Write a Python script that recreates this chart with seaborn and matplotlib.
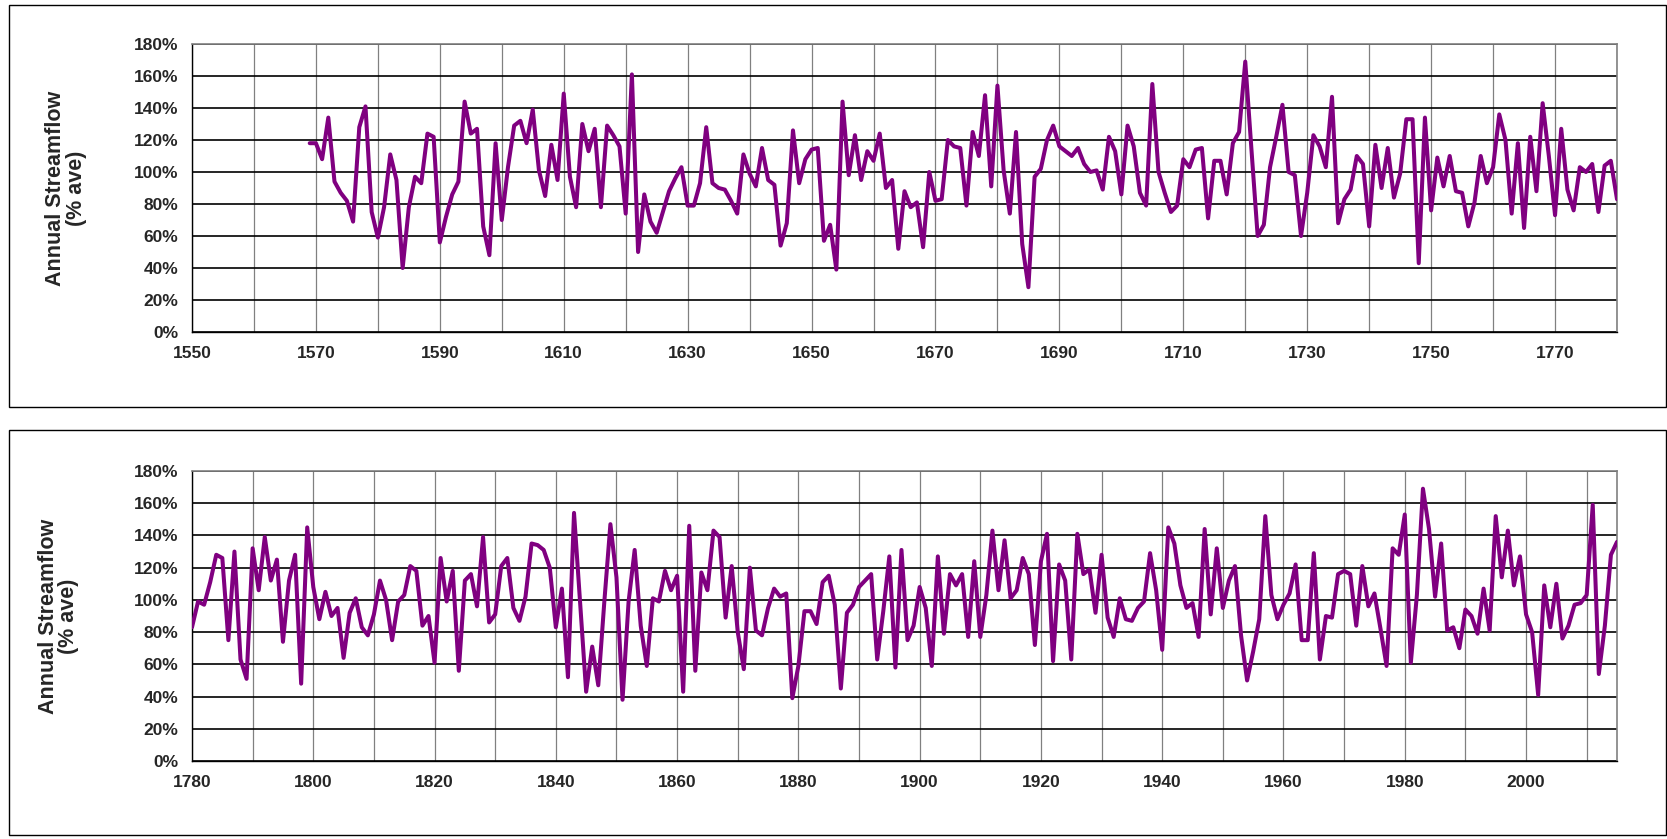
import matplotlib
matplotlib.use("Agg")
import matplotlib.pyplot as plt
from matplotlib.patches import Rectangle
from matplotlib.ticker import MultipleLocator, FuncFormatter
import seaborn as sns
import pandas as pd

# ---------------- data ----------------
top_start = 1569
top_values = [
    118, 118, 108, 134, 94, 87, 82, 69, 128, 141,          # 1569-1578
    75, 59, 78, 111, 95, 40, 78, 97, 93, 124,              # 1579-1588
    122, 56, 72, 86, 94, 144, 124, 127, 66, 48,            # 1589-1598
    118, 70, 103, 129, 132, 118, 139, 101, 85, 117,        # 1599-1608
    95, 149, 97, 78, 130, 113, 127, 78, 129, 123,          # 1609-1618
    116, 74, 161, 50, 86, 69, 62, 75, 88, 96,              # 1619-1628
    103, 79, 79, 93, 128, 93, 90, 89, 82, 74,              # 1629-1638
    111, 99, 91, 115, 95, 92, 54, 68, 126, 93,             # 1639-1648
    108, 114, 115, 57, 67, 39, 144, 98, 123, 95,           # 1649-1658
    113, 107, 124, 90, 95, 52, 88, 78, 81, 53,             # 1659-1668
    100, 82, 83, 120, 116, 115, 79, 125, 110, 148,         # 1669-1678
    91, 154, 101, 74, 125, 55, 28, 97, 102, 120,           # 1679-1688
    129, 116, 113, 110, 115, 105, 100, 101, 89, 122,       # 1689-1698
    113, 86, 129, 116, 87, 79, 155, 100, 87, 75,           # 1699-1708
    79, 108, 103, 114, 115, 71, 107, 107, 86, 118,         # 1709-1718
    125, 169, 114, 60, 67, 103, 122, 142, 100, 98,         # 1719-1728
    60, 87, 123, 116, 103, 147, 68, 83, 89, 110,           # 1729-1738
    105, 66, 117, 90, 115, 84, 99, 133, 133, 43,           # 1739-1748
    134, 76, 109, 91, 110, 88, 87, 66, 81, 110,            # 1749-1758
    93, 103, 136, 120, 74, 118, 65, 122, 88, 143,          # 1759-1768
    110, 73, 127, 89, 76, 103, 100, 105, 75, 104,          # 1769-1778
    107, 83,                                               # 1779-1780
]

bottom_start = 1780
bottom_values = [
    83, 99, 97, 111, 128, 126, 75, 130, 63, 51,            # 1780-1789
    132, 106, 139, 112, 125, 74, 112, 128, 48, 145,        # 1790-1799
    108, 88, 105, 90, 95, 64, 92, 101, 83, 78,             # 1800-1809
    91, 112, 100, 75, 99, 103, 121, 118, 84, 90,           # 1810-1819
    61, 126, 99, 118, 56, 112, 116, 96, 139, 86,           # 1820-1829
    91, 121, 126, 95, 87, 102, 135, 134, 131, 120,         # 1830-1839
    83, 107, 52, 154, 99, 43, 71, 47, 99, 147,             # 1840-1849
    114, 38, 99, 131, 84, 59, 101, 99, 118, 106,           # 1850-1859
    115, 43, 146, 56, 117, 106, 143, 139, 89, 121,         # 1860-1869
    80, 57, 120, 81, 78, 95, 107, 102, 104, 39,            # 1870-1879
    59, 93, 93, 85, 111, 115, 97, 45, 92, 97,              # 1880-1889
    108, 112, 116, 63, 93, 127, 58, 131, 75, 84,           # 1890-1899
    108, 95, 59, 127, 79, 116, 109, 116, 77, 124,          # 1900-1909
    77, 103, 143, 106, 137, 101, 106, 126, 116, 72,        # 1910-1919
    124, 141, 62, 122, 112, 63, 141, 116, 119, 92,         # 1920-1929
    128, 89, 77, 101, 88, 87, 95, 99, 129, 106,            # 1930-1939
    69, 145, 135, 109, 95, 98, 77, 144, 91, 132,           # 1940-1949
    95, 112, 121, 78, 50, 68, 88, 152, 103, 88,            # 1950-1959
    97, 104, 122, 75, 75, 129, 63, 90, 89, 116,            # 1960-1969
    118, 116, 84, 121, 96, 104, 82, 59, 132, 128,          # 1970-1979
    153, 61, 103, 169, 144, 102, 135, 81, 83, 70,          # 1980-1989
    94, 90, 79, 107, 81, 152, 114, 143, 109, 127,          # 1990-1999
    91, 80, 41, 109, 83, 110, 76, 84, 97, 98,              # 2000-2009
    103, 159, 54, 84, 128, 136,                            # 2010-2015
]

top_xlim = (1550, 1780)
bottom_xlim = (1780, 2015)
ylabel = "Annual Streamflow\n(% ave)"

# ---------------- styling ----------------
LINE_COLOR = "#800080"
sns.set_theme(style="white")
plt.rcParams["font.family"] = ["Liberation Sans", "DejaVu Sans"]
plt.rcParams["font.weight"] = "bold"

W, H = 1667, 839
fig = plt.figure(figsize=(W / 100, H / 100), dpi=100)

# panel borders
for (y0, y1) in [(5.3, 407), (429.5, 834.6)]:
    fig.patches.append(Rectangle((8.5 / W, 1 - y1 / H), (1665.5 - 8.5) / W, (y1 - y0) / H,
                                 transform=fig.transFigure, fill=False,
                                 edgecolor="black", linewidth=1.0))

ax_left = 192 / W
ax_w = (1617 - 192) / W
ax_top = fig.add_axes([ax_left, 1 - 332 / H, ax_w, (332 - 44) / H])
ax_bot = fig.add_axes([ax_left, 1 - 761 / H, ax_w, (761 - 471) / H])

def style(ax, start, values, xlim, label_mod, label_x):
    df = pd.DataFrame({"year": range(start, start + len(values)), "flow": values})
    sns.lineplot(data=df, x="year", y="flow", ax=ax, color=LINE_COLOR,
                 linewidth=2.9, zorder=5)
    ax.set_xlim(*xlim)
    ax.set_ylim(0, 180)
    ax.xaxis.set_major_locator(MultipleLocator(10))
    ax.xaxis.set_major_formatter(FuncFormatter(
        lambda v, p: f"{int(round(v))}" if int(round(v)) % 20 == label_mod else ""))
    ax.yaxis.set_major_locator(MultipleLocator(20))
    ax.yaxis.set_major_formatter(FuncFormatter(lambda v, p: f"{int(round(v))}%"))
    ax.grid(axis="y", color="black", linewidth=1.2, zorder=1)
    ax.grid(axis="x", color="#808080", linewidth=0.9, zorder=1)
    ax.set_axisbelow(True)
    for side in ("top", "right"):
        ax.spines[side].set_color("#808080")
        ax.spines[side].set_linewidth(1.2)
    for side in ("left", "bottom"):
        ax.spines[side].set_color("black")
        ax.spines[side].set_linewidth(1.0)
    ax.tick_params(axis="both", which="major", direction="out", length=5,
                   width=1, color="black", labelsize=12.5, pad=5)
    for lab in ax.get_xticklabels() + ax.get_yticklabels():
        lab.set_fontweight("bold")
    ax.set_xlabel("")
    ax.set_ylabel(ylabel, fontsize=15.5, fontweight="bold", linespacing=0.95)
    ax.yaxis.set_label_coords(label_x, 0.5)

style(ax_top, top_start, top_values, top_xlim, 10, -0.074)
style(ax_bot, bottom_start, bottom_values, bottom_xlim, 0, -0.079)

fig.savefig("out.png", dpi=100, facecolor="white")
